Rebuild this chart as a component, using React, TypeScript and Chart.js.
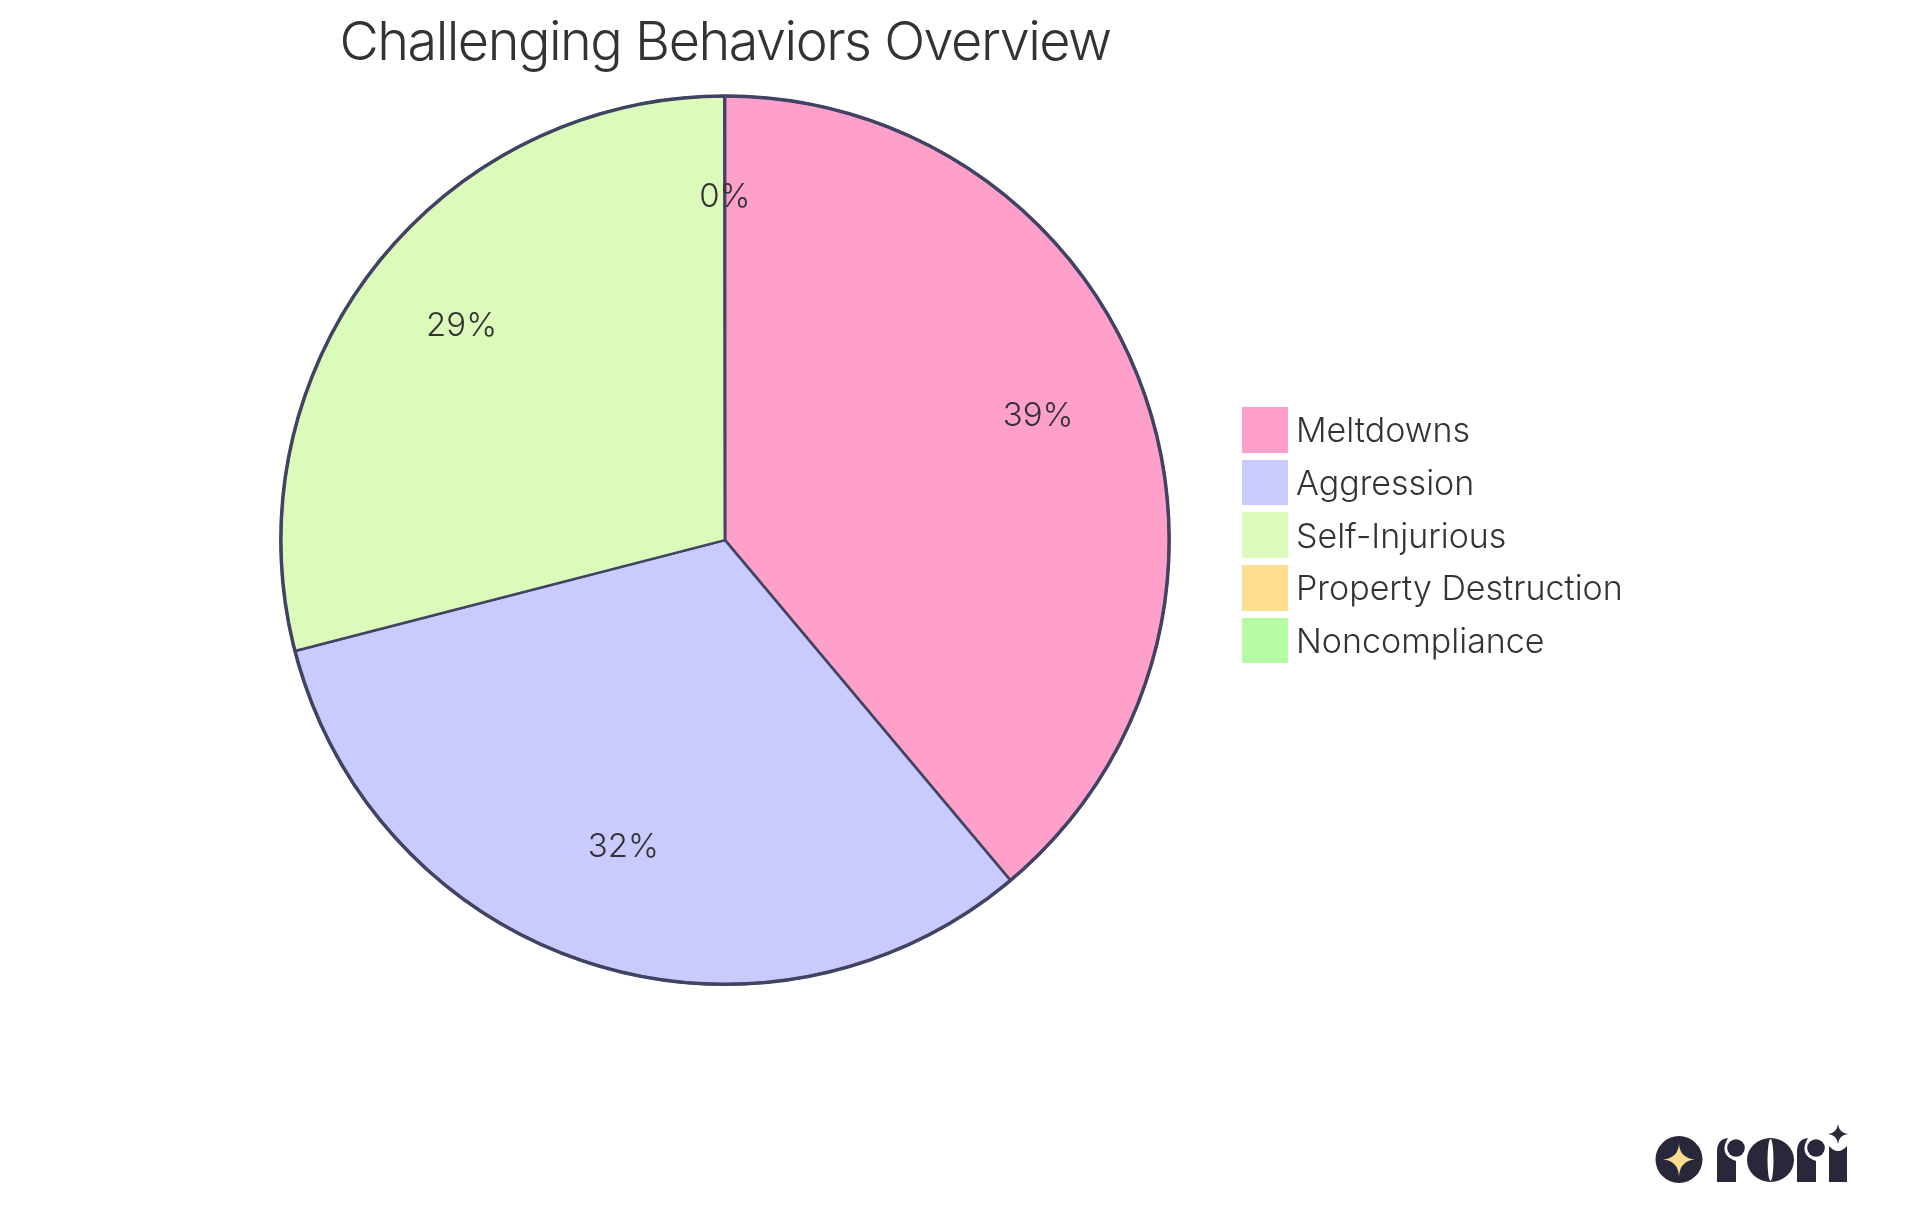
import { useEffect, useRef } from 'react';
import { Chart, registerables } from 'chart.js';

Chart.register(...registerables);

const TITLE = 'Challenging Behaviors Overview';
const LABELS = ['Meltdowns', 'Aggression', 'Self-Injurious', 'Property Destruction', 'Noncompliance'];
const VALUES = [38.9, 32.1, 29, 0.02, 0];
const COLORS = ['#ffa0cb', '#c9cafe', '#dcfaba', '#ffdd91', '#b5fba3'];
const STROKE = '#404462';
const TEXT = '#333333';
const FONT = 'Inter';

// the title is set tighter than the font's default, labels are not
const titleSpacing = {
  id: 'titleSpacing',
  beforeDraw(chart: Chart) {
    (chart.ctx as any).letterSpacing = '-1.5px';
  },
  beforeDatasetsDraw(chart: Chart) {
    (chart.ctx as any).letterSpacing = '0px';
  },
};

// percentage labels sit at 3/4 of the radius, baseline on that point
const sliceLabels = {
  id: 'sliceLabels',
  afterDatasetsDraw(chart: Chart) {
    const { ctx } = chart;
    const total = VALUES.reduce((a, b) => a + b, 0);
    ctx.save();
    ctx.font = `300 33px ${FONT}`;
    ctx.fillStyle = TEXT;
    ctx.textAlign = 'center';
    ctx.textBaseline = 'alphabetic';
    chart.getDatasetMeta(0).data.forEach((arc: any, i: number) => {
      if (!VALUES[i]) return;
      const { x, y, startAngle, endAngle, outerRadius } = arc.getProps(['x', 'y', 'startAngle', 'endAngle', 'outerRadius']);
      const mid = (startAngle + endAngle) / 2;
      const r = outerRadius * 0.75;
      ctx.fillText(`${Math.round((VALUES[i] / total) * 100)}%`, x + Math.cos(mid) * r, y + Math.sin(mid) * r);
    });
    ctx.restore();
  },
};

// the outer edge is a bit heavier than the lines between slices
const outerRing = {
  id: 'outerRing',
  afterDatasetsDraw(chart: Chart) {
    const { ctx } = chart;
    const arc: any = chart.getDatasetMeta(0).data[0];
    const { x, y, outerRadius } = arc.getProps(['x', 'y', 'outerRadius']);
    ctx.save();
    ctx.strokeStyle = STROKE;
    ctx.lineWidth = 3.5;
    ctx.beginPath();
    ctx.arc(x, y, outerRadius, 0, Math.PI * 2);
    ctx.stroke();
    ctx.restore();
  },
};

function Legend() {
  return (
    <div style={{ position: 'absolute', left: 1242, top: 407, display: 'flex', flexDirection: 'column', gap: 7 }}>
      {LABELS.map((label, i) => (
        <div key={label} style={{ display: 'flex', alignItems: 'center', height: 45.7 }}>
          <span style={{ width: 46, height: 45.7, background: COLORS[i], marginRight: 8 }} />
          <span style={{ font: `300 34px ${FONT}`, color: TEXT, whiteSpace: 'nowrap' }}>{label}</span>
        </div>
      ))}
    </div>
  );
}

function Logo() {
  const ink = '#28283a';
  const r = (x: number) =>
    `M${x} 1182 V1152 Q${x} 1139 ${x + 11} 1138 Q${x + 1} 1155 ${x + 19} 1161 V1182 Z`;
  return (
    <svg style={{ position: 'absolute', left: 0, top: 0 }} width={1920} height={1215} viewBox="0 0 1920 1215">
      <circle cx={1679} cy={1159.5} r={23.5} fill={ink} />
      <path d="M1679 1144 Q1680 1158 1695 1159.5 Q1680 1161 1679 1176 Q1678 1161 1663 1159.5 Q1678 1158 1679 1144 Z" fill="#fedd91" />
      <path d={r(1717)} fill={ink} />
      <circle cx={1736} cy={1148} r={8.8} fill={ink} />
      <ellipse cx={1770.5} cy={1160} rx={23.5} ry={22} fill={ink} />
      <ellipse cx={1770.5} cy={1160} rx={3} ry={21} fill="#ffffff" />
      <path d={r(1797)} fill={ink} />
      <circle cx={1816} cy={1148} r={8.8} fill={ink} />
      <path d="M1829 1182 V1146 Q1838 1156 1847 1146 V1182 Z" fill={ink} />
      <path d="M1838 1124 Q1839 1133 1848 1134 Q1839 1135 1838 1144 Q1837 1135 1828 1134 Q1837 1133 1838 1124 Z" fill={ink} />
    </svg>
  );
}

export default function App() {
  const canvasRef = useRef<HTMLCanvasElement>(null);

  useEffect(() => {
    if (!canvasRef.current) return;
    const chart = new Chart(canvasRef.current, {
      type: 'pie',
      data: {
        labels: LABELS,
        datasets: [{
          data: VALUES,
          backgroundColor: COLORS,
          borderColor: STROKE,
          borderWidth: 2.5,
        }],
      },
      options: {
        responsive: false,
        animation: false,
        layout: { padding: { left: 279.5, right: 749.5, top: 11.5, bottom: 229.5 } },
        plugins: {
          legend: { display: false },
          tooltip: { enabled: false },
          title: {
            display: true,
            text: TITLE,
            fullSize: false,
            color: TEXT,
            font: { family: FONT, size: 54, weight: '300' },
            padding: { top: 0, bottom: 18.4 },
          },
        },
      },
      plugins: [titleSpacing, outerRing, sliceLabels],
    });
    return () => chart.destroy();
  }, []);

  return (
    <div style={{ position: 'absolute', left: 0, top: 0, width: 1920, height: 1215, background: '#ffffff', overflow: 'hidden' }}>
      <canvas ref={canvasRef} width={1920} height={1215} style={{ display: 'block' }} />
      <Legend />
      <Logo />
    </div>
  );
}
